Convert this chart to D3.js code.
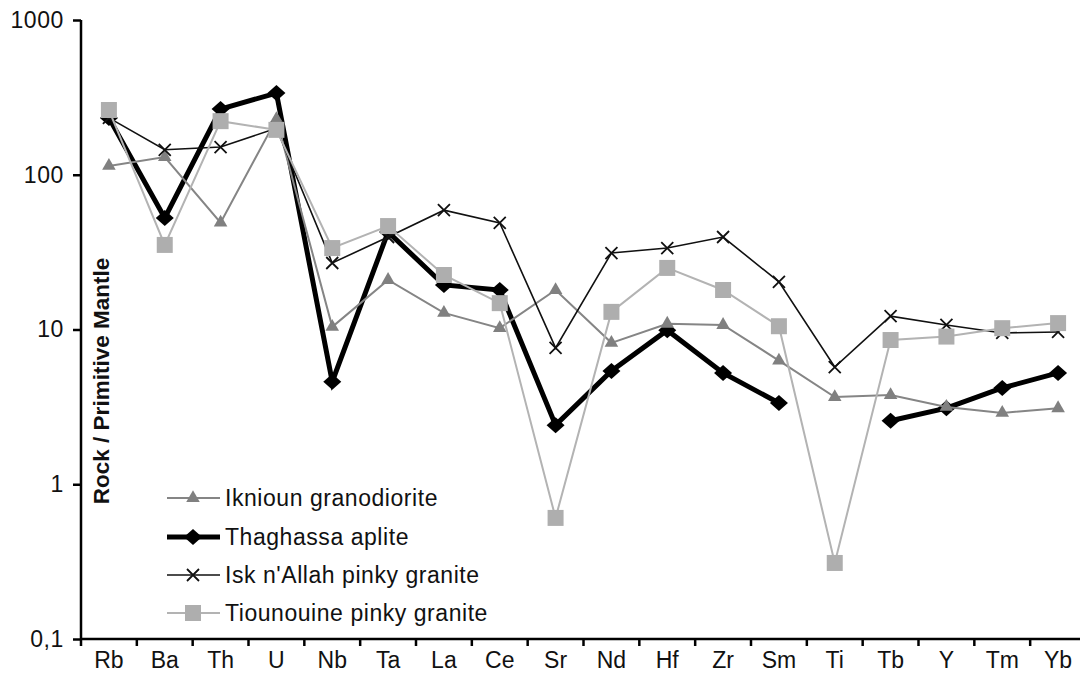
<!DOCTYPE html>
<html>
<head>
<meta charset="utf-8">
<script src="https://cdn.jsdelivr.net/npm/d3@7"></script>
<style>
  html, body { margin: 0; padding: 0; background: #fff; }
  svg { display: block; font-family: "Liberation Sans", Arial, sans-serif; }
</style>
</head>
<body>
<svg id="chart" width="1080" height="686"></svg>
<script>
const categories = ["Rb","Ba","Th","U","Nb","Ta","La","Ce","Sr","Nd","Hf","Zr","Sm","Ti","Tb","Y","Tm","Yb"];
const yTicks = [0.1, 1, 10, 100, 1000];
const seriesNames = ["Iknioun granodiorite", "Thaghassa aplite", "Isk n'Allah pinky granite", "Tiounouine pinky granite"];

const iknioun    = [114, 130, 49, 229, 10.4, 20.9, 12.8, 10.2, 18, 8.2, 10.9, 10.7, 6.3, 3.66, 3.77, 3.16, 2.89, 3.1];
const thaghassa  = [233, 52.6, 266, 337, 4.6, 42.7, 19.4, 18, 2.41, 5.39, 9.9, 5.24, 3.35, null, 2.57, 3.1, 4.19, 5.24];
const iskNAllah  = [233, 145, 151, 200, 26.9, 39.6, 59, 48.8, 7.6, 31.2, 33.6, 39.6, 20.3, 5.72, 12.2, 10.7, 9.5, 9.64];
const tiounouine = [262, 35.2, 222, 195, 33.6, 46.6, 22.5, 14.8, 0.606, 13, 25, 18, 10.5, 0.31, 8.55, 9.0, 10.2, 11.0];

const svg = d3.select("#chart");
const x = d3.scaleBand().domain(categories).range([81, 1086]);
const y = d3.scaleLog().domain([0.1, 1000]).range([639, 20]);
const cx = c => x(c) + x.bandwidth() / 2;
const FS = 23;

// Axes
const yAxis = svg.append("g").attr("transform", "translate(81,0)")
  .call(d3.axisLeft(y).tickValues(yTicks).tickSize(8).tickPadding(9)
    .tickFormat(d => String(d).replace(".", ",")));
yAxis.select(".domain").attr("stroke", "#000").attr("stroke-width", 2.5).attr("d", "M0,20V639");
yAxis.selectAll(".tick line").attr("stroke", "#000").attr("stroke-width", 2.5);
yAxis.selectAll(".tick text").attr("font-size", FS).attr("letter-spacing", 0.6).attr("fill", "#111").attr("font-family", "Liberation Sans, Arial, sans-serif");

const xAxis = svg.append("g").attr("transform", "translate(0,639)")
  .call(d3.axisBottom(x).tickSize(0).tickPadding(13));
xAxis.select(".domain").attr("stroke", "#000").attr("stroke-width", 2.5).attr("d", "M80,0H1080");
xAxis.selectAll(".tick text").attr("font-size", FS).attr("fill", "#111").attr("dy", "0.71em").attr("font-family", "Liberation Sans, Arial, sans-serif");
xAxis.selectAll(".bound").data(categories).join("line")
  .attr("class", "bound")
  .attr("x1", d => x(d)).attr("x2", d => x(d))
  .attr("y1", 0).attr("y2", 7)
  .attr("stroke", "#000").attr("stroke-width", 2.5);

// Y title
svg.append("text")
  .attr("transform", "translate(109,381) rotate(-90)")
  .attr("text-anchor", "middle")
  .attr("font-size", 22.5).attr("font-weight", "bold").attr("fill", "#111")
  .text("Rock / Primitive Mantle");

const styles = [
  { vals: iknioun,    stroke: "#858585", width: 2,   marker: "triangle", fill: "#808080" },
  { vals: thaghassa,  stroke: "#000",    width: 5,   marker: "diamond",  fill: "#000" },
  { vals: iskNAllah,  stroke: "#111",    width: 1.6, marker: "x",        fill: "none" },
  { vals: tiounouine, stroke: "#b3b3b3", width: 2,   marker: "square",   fill: "#aeaeae" }
];

function markerPath(type) {
  if (type === "triangle") return d3.symbol(d3.symbolTriangle, 80)();
  if (type === "diamond") return "M-9,0L0,-8L9,0L0,8Z";
  if (type === "x") return "M-6,-6L6,6M-6,6L6,-6";
  return "M-8,-8H8V8H-8Z";
}

const line = d3.line()
  .defined(d => d.v != null)
  .x(d => cx(d.c))
  .y(d => y(d.v));

const order = [1, 0, 2, 3];
order.forEach(i => {
  const s = styles[i];
  const pts = categories.map((c, k) => ({ c, v: s.vals[k] }));
  const g = svg.append("g");
  g.append("path").datum(pts)
    .attr("d", line).attr("fill", "none")
    .attr("stroke", s.stroke).attr("stroke-width", s.width)
    .attr("stroke-linejoin", "miter");
  g.selectAll("path.m").data(pts.filter(d => d.v != null)).join("path")
    .attr("class", "m")
    .attr("transform", d => `translate(${cx(d.c)},${y(d.v)})`)
    .attr("d", markerPath(s.marker))
    .attr("fill", s.fill)
    .attr("stroke", s.marker === "x" ? "#111" : "none")
    .attr("stroke-width", s.marker === "x" ? 1.8 : 0);
});

// Legend
const legendRows = [498, 537, 575, 613];
const lg = svg.append("g");
styles.forEach((s, i) => {
  const yy = legendRows[i];
  lg.append("line").attr("x1", 167).attr("x2", 220).attr("y1", yy).attr("y2", yy)
    .attr("stroke", s.stroke).attr("stroke-width", s.width);
  lg.append("path").attr("transform", `translate(193,${yy})`)
    .attr("d", markerPath(s.marker)).attr("fill", s.fill)
    .attr("stroke", s.marker === "x" ? "#111" : "none")
    .attr("stroke-width", s.marker === "x" ? 1.8 : 0);
  lg.append("text").attr("x", 225).attr("y", yy).attr("dy", "0.35em")
    .attr("font-size", FS).attr("letter-spacing", 0.55).attr("fill", "#111")
    .text(seriesNames[i]);
});
</script>
</body>
</html>
